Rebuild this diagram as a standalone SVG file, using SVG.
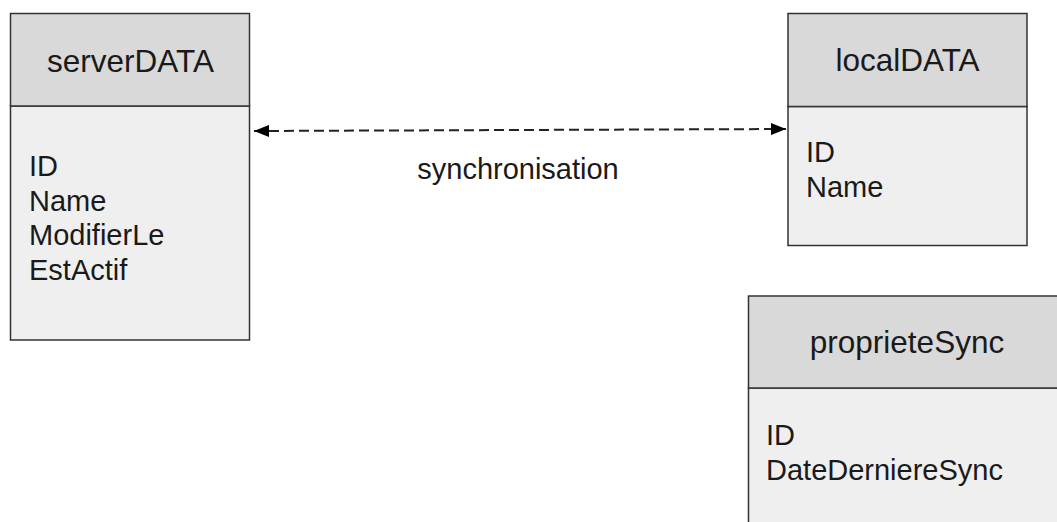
<svg xmlns="http://www.w3.org/2000/svg" width="1057" height="522" viewBox="0 0 1057 522">
<defs>
<style>
.hd{fill:#d9d9d9;stroke:#333;stroke-width:1.5}
.bd{fill:#efefef;stroke:#333;stroke-width:1.5}
.t{font-family:"Liberation Sans",Arial,sans-serif;fill:#1a1a1a}
.title{font-size:31.5px;text-anchor:middle}
.f{font-size:29px}
.conn{stroke:#222;stroke-width:2;stroke-dasharray:10 5;fill:none}
</style>
<marker id="ah" viewBox="0 0 15 12" refX="15" refY="6" markerWidth="15" markerHeight="12" markerUnits="userSpaceOnUse" orient="auto-start-reverse">
<path d="M0,0 L15,6 L0,12 Z" fill="#000"/>
</marker>
</defs>
<rect width="1057" height="522" fill="#fff"/>
<g id="serverDATA">
<rect class="bd" x="10.5" y="106" width="239" height="234"/>
<rect class="hd" x="10.5" y="13.5" width="239" height="92.5"/>
<text class="t title" x="130.5" y="72">serverDATA</text>
<text class="t f" x="29" y="176">ID</text>
<text class="t f" x="29" y="211">Name</text>
<text class="t f" x="29" y="245">ModifierLe</text>
<text class="t f" x="29" y="280">EstActif</text>
</g>
<g id="localDATA">
<rect class="bd" x="788" y="106.5" width="239" height="139"/>
<rect class="hd" x="788" y="13.5" width="239" height="93"/>
<text class="t title" x="907.5" y="71">localDATA</text>
<text class="t f" x="806" y="162">ID</text>
<text class="t f" x="806" y="197">Name</text>
</g>
<g id="proprieteSync">
<rect class="bd" x="748.5" y="388" width="330" height="160"/>
<rect class="hd" x="748.5" y="296" width="330" height="92"/>
<text class="t title" x="907" y="353">proprieteSync</text>
<text class="t f" x="766" y="445">ID</text>
<text class="t f" x="766" y="480">DateDerniereSync</text>
</g>
<g id="connectors">
<line class="conn" x1="254" y1="131" x2="786" y2="129" marker-start="url(#ah)" marker-end="url(#ah)"/>
<text class="t f" x="518" y="179" text-anchor="middle">synchronisation</text>
</g>
</svg>
